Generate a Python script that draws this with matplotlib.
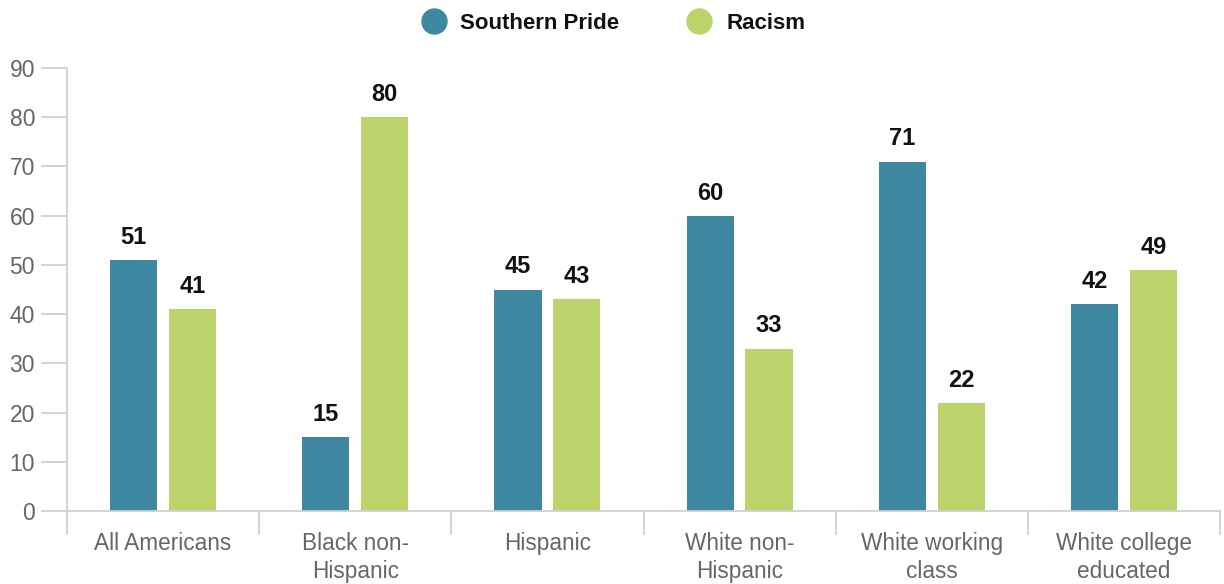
import matplotlib.pyplot as plt
import numpy as np
from matplotlib.lines import Line2D

plt.rcParams['font.family'] = ['Liberation Sans', 'DejaVu Sans']

categories = ["All Americans", "Black non-\nHispanic", "Hispanic",
              "White non-\nHispanic", "White working\nclass", "White college\neducated"]
southern_pride = [51, 15, 45, 60, 71, 42]
racism = [41, 80, 43, 33, 22, 49]
series_names = ["Southern Pride", "Racism"]
colors = ["#3d88a0", "#bcd36b"]
yticks = [0, 10, 20, 30, 40, 50, 60, 70, 80, 90]

W, H = 1224, 584
fig = plt.figure(figsize=(W / 100, H / 100), dpi=100)
ax = fig.add_axes([67 / W, 1 - 511 / H, (1220 - 67) / W, (511 - 68) / H])

x = np.arange(len(categories))
w = 0.245
off = 0.153
for vals, dx, c in [(southern_pride, -off, colors[0]), (racism, off, colors[1])]:
    bars = ax.bar(x + dx, vals, width=w, color=c, zorder=2)
    for b, v in zip(bars, vals):
        ax.annotate(str(v), (b.get_x() + b.get_width() / 2, v),
                    xytext=(0, 8), textcoords="offset points",
                    ha="center", va="bottom", fontsize=17, fontweight="bold",
                    color="#111111")

ax.set_xlim(-0.5, len(categories) - 0.5)
ax.set_ylim(0, 90)
ax.set_yticks(yticks)
ax.set_xticks(x)
ax.set_xticklabels(categories, fontsize=16.3, color="#666666", linespacing=1.3)
ax.set_xticks(np.arange(len(categories) + 1) - 0.5, minor=True)
ax.tick_params(axis="x", which="major", length=0, pad=15)
ax.tick_params(axis="x", which="minor", length=17, color="#d0d0d0", width=1.3)
ax.tick_params(axis="y", length=19, color="#d0d0d0", width=1.3, labelsize=16.5,
               labelcolor="#666666", pad=4)

for s in ["top", "right"]:
    ax.spines[s].set_visible(False)
for s in ["left", "bottom"]:
    ax.spines[s].set_color("#d0d0d0")
    ax.spines[s].set_linewidth(1.3)

# Legend row across the top: coloured dot followed by the series name
legend_y = 1 - 21 / H
for name, c, mx, tx in zip(series_names, colors, [434, 699], [460, 727]):
    fig.add_artist(Line2D([mx / W], [legend_y], transform=fig.transFigure,
                          marker="o", markersize=18, markerfacecolor=c,
                          markeredgecolor=c, linestyle="none"))
    fig.text(tx / W, legend_y, name, ha="left", va="center_baseline",
             fontsize=16, fontweight="bold", color="#111111")

fig.savefig("out.png", dpi=100)
